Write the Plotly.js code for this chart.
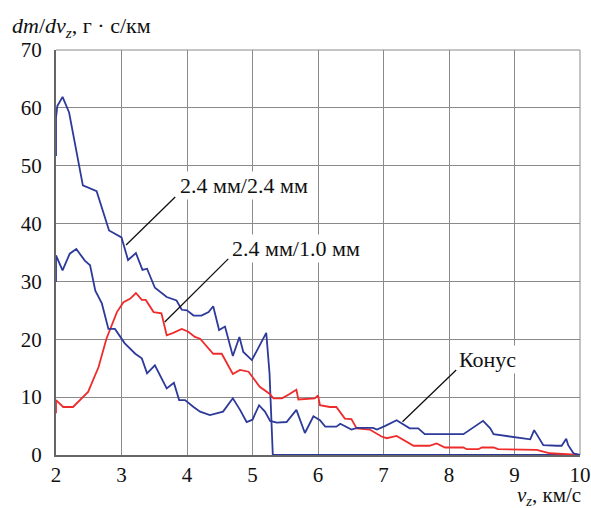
<!DOCTYPE html>
<html>
<head>
<meta charset="utf-8">
<script src="https://cdn.plot.ly/plotly-3.0.1.min.js"></script>
<style>html,body{margin:0;padding:0;background:#fff;}#chart{width:591px;height:508px;}</style>
</head>
<body>
<div id="chart"></div>
<script>
// Series: 2.4 мм/2.4 мм
const vA = [2.0, 2.0, 2.02, 2.10, 2.20, 2.41, 2.62, 2.81, 3.00, 3.10, 3.22, 3.32, 3.39, 3.51, 3.69, 3.84, 3.92, 4.00, 4.10, 4.22, 4.33, 4.40, 4.49, 4.58, 4.70, 4.80, 4.86, 4.99, 5.21, 5.26, 5.31, 10.0];
const mA = [51.7, 58.3, 60.3, 61.9, 59.2, 46.6, 45.6, 38.8, 37.6, 33.7, 34.9, 32.0, 32.2, 28.9, 27.3, 26.7, 25.1, 25.0, 24.1, 24.1, 24.7, 25.7, 21.6, 22.2, 17.1, 20.4, 17.8, 16.4, 21.1, 14.1, 0.0, 0.0];

// Series: 2.4 мм/1.0 мм
const vB = [2.0, 2.0, 2.11, 2.26, 2.49, 2.65, 2.77, 2.93, 3.03, 3.13, 3.22, 3.31, 3.37, 3.49, 3.61, 3.69, 3.79, 3.92, 4.02, 4.12, 4.20, 4.40, 4.53, 4.70, 4.81, 4.94, 5.11, 5.26, 5.32, 5.45, 5.56, 5.67, 5.70, 5.95, 6.00, 6.03, 6.18, 6.28, 6.41, 6.51, 6.59, 6.79, 6.97, 7.05, 7.20, 7.46, 7.70, 7.81, 7.94, 8.22, 8.27, 8.45, 8.50, 8.68, 8.75, 9.34, 9.54, 10.0];
const mB = [7.2, 9.5, 8.3, 8.3, 10.9, 15.2, 20.1, 24.7, 26.4, 27.0, 28.0, 26.8, 26.8, 24.7, 24.5, 20.7, 21.1, 21.8, 21.3, 20.4, 20.1, 17.5, 17.5, 14.0, 14.7, 14.4, 11.8, 10.6, 9.8, 9.8, 10.5, 11.3, 9.6, 9.8, 10.3, 8.6, 8.3, 8.3, 6.3, 6.2, 4.6, 4.4, 3.2, 2.9, 3.3, 1.6, 1.6, 2.0, 1.3, 1.3, 1.0, 1.0, 1.3, 1.3, 1.0, 0.9, 0.3, 0.0];

// Series: Конус
const vC = [2.0, 2.0, 2.10, 2.21, 2.31, 2.44, 2.52, 2.60, 2.70, 2.80, 2.90, 3.05, 3.21, 3.31, 3.39, 3.51, 3.69, 3.80, 3.88, 3.97, 4.10, 4.20, 4.35, 4.55, 4.70, 4.81, 4.91, 5.00, 5.10, 5.19, 5.27, 5.37, 5.52, 5.67, 5.80, 5.93, 6.03, 6.11, 6.28, 6.34, 6.51, 6.60, 6.84, 6.90, 7.02, 7.20, 7.40, 7.53, 7.63, 8.22, 8.52, 8.63, 8.68, 9.24, 9.30, 9.44, 9.65, 9.72, 9.79, 9.82, 9.90, 10.0];
const mC = [29.9, 34.5, 31.9, 34.8, 35.6, 33.6, 32.8, 28.4, 26.2, 21.8, 21.8, 19.3, 17.5, 16.7, 14.1, 15.5, 11.5, 12.5, 9.5, 9.5, 8.3, 7.5, 6.9, 7.5, 9.8, 7.8, 5.7, 6.1, 8.6, 7.5, 5.9, 5.6, 5.7, 7.8, 3.8, 6.7, 6.0, 4.9, 4.9, 5.4, 4.4, 4.7, 4.7, 4.4, 5.0, 6.0, 4.6, 4.6, 3.6, 3.6, 5.9, 4.6, 3.6, 2.7, 4.3, 1.7, 1.6, 1.6, 2.8, 1.7, 0.3, 0.0];

const seriesNames = ['2.4 мм/2.4 мм', '2.4 мм/1.0 мм', 'Конус'];
const xTicks = [2, 3, 4, 5, 6, 7, 8, 9, 10];
const yTicks = [0, 10, 20, 30, 40, 50, 60, 70];

const BLUE = '#2d3a9a';
const RED = '#ef2b2b';
const FONT = '"Liberation Serif", "DejaVu Serif", "Times New Roman", Times, serif';
const GRID = '#8a8a8a';

const traces = [
  {x: vA, y: mA, name: seriesNames[0], mode: 'lines', line: {color: BLUE, width: 1.8}},
  {x: vB, y: mB, name: seriesNames[1], mode: 'lines', line: {color: RED, width: 1.8}},
  {x: vC, y: mC, name: seriesNames[2], mode: 'lines', line: {color: BLUE, width: 1.8}}
];

const axisCommon = {
  showgrid: true, gridcolor: GRID, gridwidth: 1,
  showline: true, linecolor: '#666', linewidth: 2,
  zeroline: false, ticks: '', fixedrange: true,
  ticklabeloverflow: 'allow',
  tickfont: {family: FONT, size: 21, color: '#111'}
};

const labelFont = {family: FONT, size: 22, color: '#111'};

const layout = {
  width: 591, height: 508,
  margin: {l: 56, r: 11, t: 50, b: 53},
  paper_bgcolor: '#fff', plot_bgcolor: '#fff',
  showlegend: false,
  xaxis: Object.assign({}, axisCommon, {range: [2, 10], tickvals: xTicks, ticktext: xTicks.map(String), ticklabelstandoff: 0}),
  yaxis: Object.assign({}, axisCommon, {range: [0, 70], tickvals: yTicks, ticktext: yTicks.map(String), ticklabelstandoff: 8}),
  shapes: [
    {type: 'line', xref: 'paper', yref: 'paper', x0: 0, y0: 1, x1: 1, y1: 1, layer: 'below', line: {color: GRID, width: 1}},
    {type: 'line', xref: 'paper', yref: 'paper', x0: 1, y0: 0, x1: 1, y1: 1, layer: 'below', line: {color: GRID, width: 1}},
    {type: 'line', xref: 'x', yref: 'y', x0: 3.07, y0: 36.3, x1: 3.82, y1: 44.6, line: {color: '#111', width: 1.3}},
    {type: 'line', xref: 'x', yref: 'y', x0: 3.66, y0: 23.0, x1: 4.63, y1: 33.9, line: {color: '#111', width: 1.3}},
    {type: 'line', xref: 'x', yref: 'y', x0: 7.29, y0: 5.75, x1: 8.11, y1: 14.7, line: {color: '#111', width: 1.3}}
  ],
  annotations: [
    {xref: 'x', yref: 'y', x: 3.86, y: 46.6, xanchor: 'left', yanchor: 'middle', text: seriesNames[0], showarrow: false, bgcolor: '#fff', borderpad: 1, font: labelFont},
    {xref: 'x', yref: 'y', x: 4.66, y: 35.7, xanchor: 'left', yanchor: 'middle', text: seriesNames[1], showarrow: false, bgcolor: '#fff', borderpad: 1, font: labelFont},
    {xref: 'x', yref: 'y', x: 8.12, y: 16.5, xanchor: 'left', yanchor: 'middle', text: seriesNames[2], showarrow: false, bgcolor: '#fff', borderpad: 1, font: labelFont},
    {xref: 'paper', yref: 'paper', x: -0.088, y: 1.057, xanchor: 'left', yanchor: 'middle', showarrow: false,
     text: '<i>dm</i>/<i>dv</i><sub><i>z</i></sub>, г · с/км', font: labelFont},
    {xref: 'paper', yref: 'paper', x: 1.005, y: -0.1, xanchor: 'right', yanchor: 'middle', showarrow: false,
     text: '<i>v</i><sub><i>z</i></sub>, км/с', font: {family: FONT, size: 21, color: '#111'}}
  ]
};

Plotly.newPlot('chart', traces, layout, {displayModeBar: false, staticPlot: true});
</script>
</body>
</html>
